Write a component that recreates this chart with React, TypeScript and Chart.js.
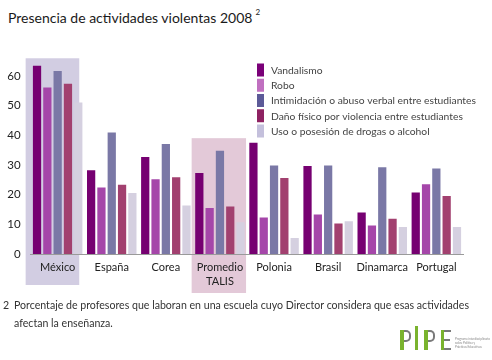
import React, { useEffect, useRef } from "react";
import { Chart, registerables } from "chart.js";

Chart.register(...registerables);

const categories: (string | string[])[] = ["México", "España", "Corea", ["Promedio", "TALIS"], "Polonia", "Brasil", "Dinamarca", "Portugal"];
const seriesNames = [
  "Vandalismo",
  "Robo",
  "Intimidación o abuso verbal entre estudiantes",
  "Daño físico por violencia entre estudiantes",
  "Uso o posesión de drogas o alcohol",
];
const vandalismo = [63.4, 28.2, 32.7, 27.3, 37.5, 29.6, 14.0, 20.7];
const robo = [56.1, 22.4, 25.2, 15.5, 12.3, 13.3, 9.6, 23.5];
const intimidacion = [61.6, 40.9, 37.0, 34.8, 29.8, 29.8, 29.2, 28.8];
const danoFisico = [57.3, 23.3, 25.8, 16.0, 25.6, 10.3, 11.9, 19.5];
const drogas = [51.0, 20.5, 16.3, 10.7, 5.4, 11.0, 9.1, 9.1];
const yTicks = [0, 10, 20, 30, 40, 50, 60];

const barColors = ["#760071", "#a546a9", "#7a78a6", "#a2406f", "#d5d0e0"];
const legendColors = ["#7a0078", "#c070c0", "#5c5a98", "#8e2262", "#c4c0dc"];

const highlights = [
  { index: 0, topValue: 65.9, color: "#d2cde2", left: -32, right: 21.6, below: 31 },
  { index: 3, topValue: 39, color: "#e3c9d8", left: -28.3, right: 26.1, below: 39 },
];

const FONT = "Lato, 'Open Sans', sans-serif";

export default function App() {
  const ref = useRef<HTMLCanvasElement>(null);
  useEffect(() => {
    if (!ref.current) return;
    const series = [vandalismo, robo, intimidacion, danoFisico, drogas];
    const boxPlugin = {
      id: "boxes",
      beforeDraw(chart: any) {
        const ctx = chart.ctx;
        const xs = chart.scales.x;
        const ys = chart.scales.y;
        ctx.save();
        highlights.forEach((h) => {
          const cx = xs.getPixelForValue(h.index);
          const top = ys.getPixelForValue(h.topValue);
          const bottom = ys.getPixelForValue(0) + h.below;
          ctx.fillStyle = h.color;
          ctx.fillRect(cx + h.left, top, h.right - h.left, bottom - top);
        });
        ctx.restore();
      },
    };
    const legendPlugin = {
      id: "customLegend",
      afterDraw(chart: any) {
        const ctx = chart.ctx;
        ctx.save();
        const x0 = 257;
        const y0 = 70;
        const step = 15.25;
        ctx.font = `10.3px ${FONT}`;
        ctx.textBaseline = "middle";
        ctx.textAlign = "left";
        chart.data.datasets.forEach((d: any, i: number) => {
          const y = y0 + i * step;
          ctx.fillStyle = legendColors[i];
          ctx.fillRect(x0, y - 6.5, 7, 13);
          ctx.fillStyle = "#444";
          ctx.fillText(d.label, x0 + 14, y + 0.5);
        });
        ctx.restore();
      },
    };
    const chart = new Chart(ref.current, {
      type: "bar",
      data: {
        labels: categories,
        datasets: series.map((data, i) => ({
          label: seriesNames[i],
          data,
          backgroundColor: barColors[i],
          borderWidth: 0,
          categoryPercentage: 0.953,
          barPercentage: 0.8,
        })),
      },
      options: {
        animation: false,
        responsive: false,
        maintainAspectRatio: false,
        layout: { padding: { top: 46.1, right: 28.6, left: 0, bottom: 0 } },
        plugins: {
          legend: { display: false },
          tooltip: { enabled: false },
          title: { display: false },
        },
        scales: {
          x: {
            grid: { display: false, drawTicks: false },
            border: { display: true, color: "#9a9a9a", width: 1 },
            ticks: {
              color: "#222",
              font: { family: FONT, size: 11, lineHeight: 1.27 },
              padding: 6,
              maxRotation: 0,
              autoSkip: false,
            },
            afterFit: (s: any) => {
              s.height = 46;
            },
          },
          y: {
            min: 0,
            max: 70,
            grid: { display: false, drawTicks: false },
            border: { display: false },
            afterBuildTicks: (s: any) => {
              s.ticks = yTicks.map((v) => ({ value: v }));
            },
            ticks: {
              color: "#222",
              font: { family: FONT, size: 11.5 },
              padding: 10,
            },
            afterFit: (s: any) => {
              s.width = 30.6;
            },
          },
        },
      },
      plugins: [boxPlugin, legendPlugin],
    });
    return () => chart.destroy();
  }, []);

  const green = "#7ab32e";
  const gray = "#7a7a7a";
  return (
    <div style={{ position: "absolute", left: 0, top: 0, width: 492, height: 360, background: "#fff", overflow: "hidden", fontFamily: FONT }}>
      <div style={{ position: "absolute", left: 8, top: 4, fontSize: 14, color: "#1a1a1a", whiteSpace: "nowrap", lineHeight: "20px" }}>
        Presencia de actividades violentas 2008
        <sup style={{ fontSize: 8, marginLeft: 3, position: "relative", top: -2 }}>2</sup>
      </div>
      <canvas ref={ref} width={492} height={300} style={{ position: "absolute", left: 0, top: 0, width: 492, height: 300 }} />
      <div style={{ position: "absolute", left: 3, top: 296, fontSize: 10.6, color: "#333", lineHeight: "18px" }}>2</div>
      <div style={{ position: "absolute", left: 14, top: 296, width: 470, fontSize: 10.6, color: "#333", lineHeight: "18px", whiteSpace: "nowrap" }}>
        Porcentaje de profesores que laboran en una escuela cuyo Director considera que esas actividades
        <br />
        afectan la enseñanza.
      </div>
      {/* logo */}
      <div style={{ position: "absolute", left: 400, top: 330, width: 4, height: 20, background: green }} />
      <div style={{ position: "absolute", left: 404, top: 330, width: 5, height: 8, border: `2px solid ${gray}`, borderLeft: "none", borderRadius: "0 5px 5px 0" }} />
      <div style={{ position: "absolute", left: 415, top: 326, width: 3, height: 24, background: green }} />
      <div style={{ position: "absolute", left: 424, top: 330, width: 4, height: 20, background: green }} />
      <div style={{ position: "absolute", left: 428, top: 330, width: 5, height: 8, border: `2px solid ${gray}`, borderLeft: "none", borderRadius: "0 5px 5px 0" }} />
      <div style={{ position: "absolute", left: 441, top: 330, width: 3, height: 20, background: green }} />
      <div style={{ position: "absolute", left: 444, top: 330, width: 7, height: 2, background: gray }} />
      <div style={{ position: "absolute", left: 444, top: 339, width: 6, height: 2, background: gray }} />
      <div style={{ position: "absolute", left: 444, top: 348, width: 7, height: 2, background: gray }} />
      <div style={{ position: "absolute", left: 455, top: 337, fontSize: 3, lineHeight: "4px", color: "#888", whiteSpace: "nowrap" }}>
        Programa interdisciplinario
        <br />
        sobre Política y
        <br />
        Prácticas Educativas
      </div>
    </div>
  );
}
